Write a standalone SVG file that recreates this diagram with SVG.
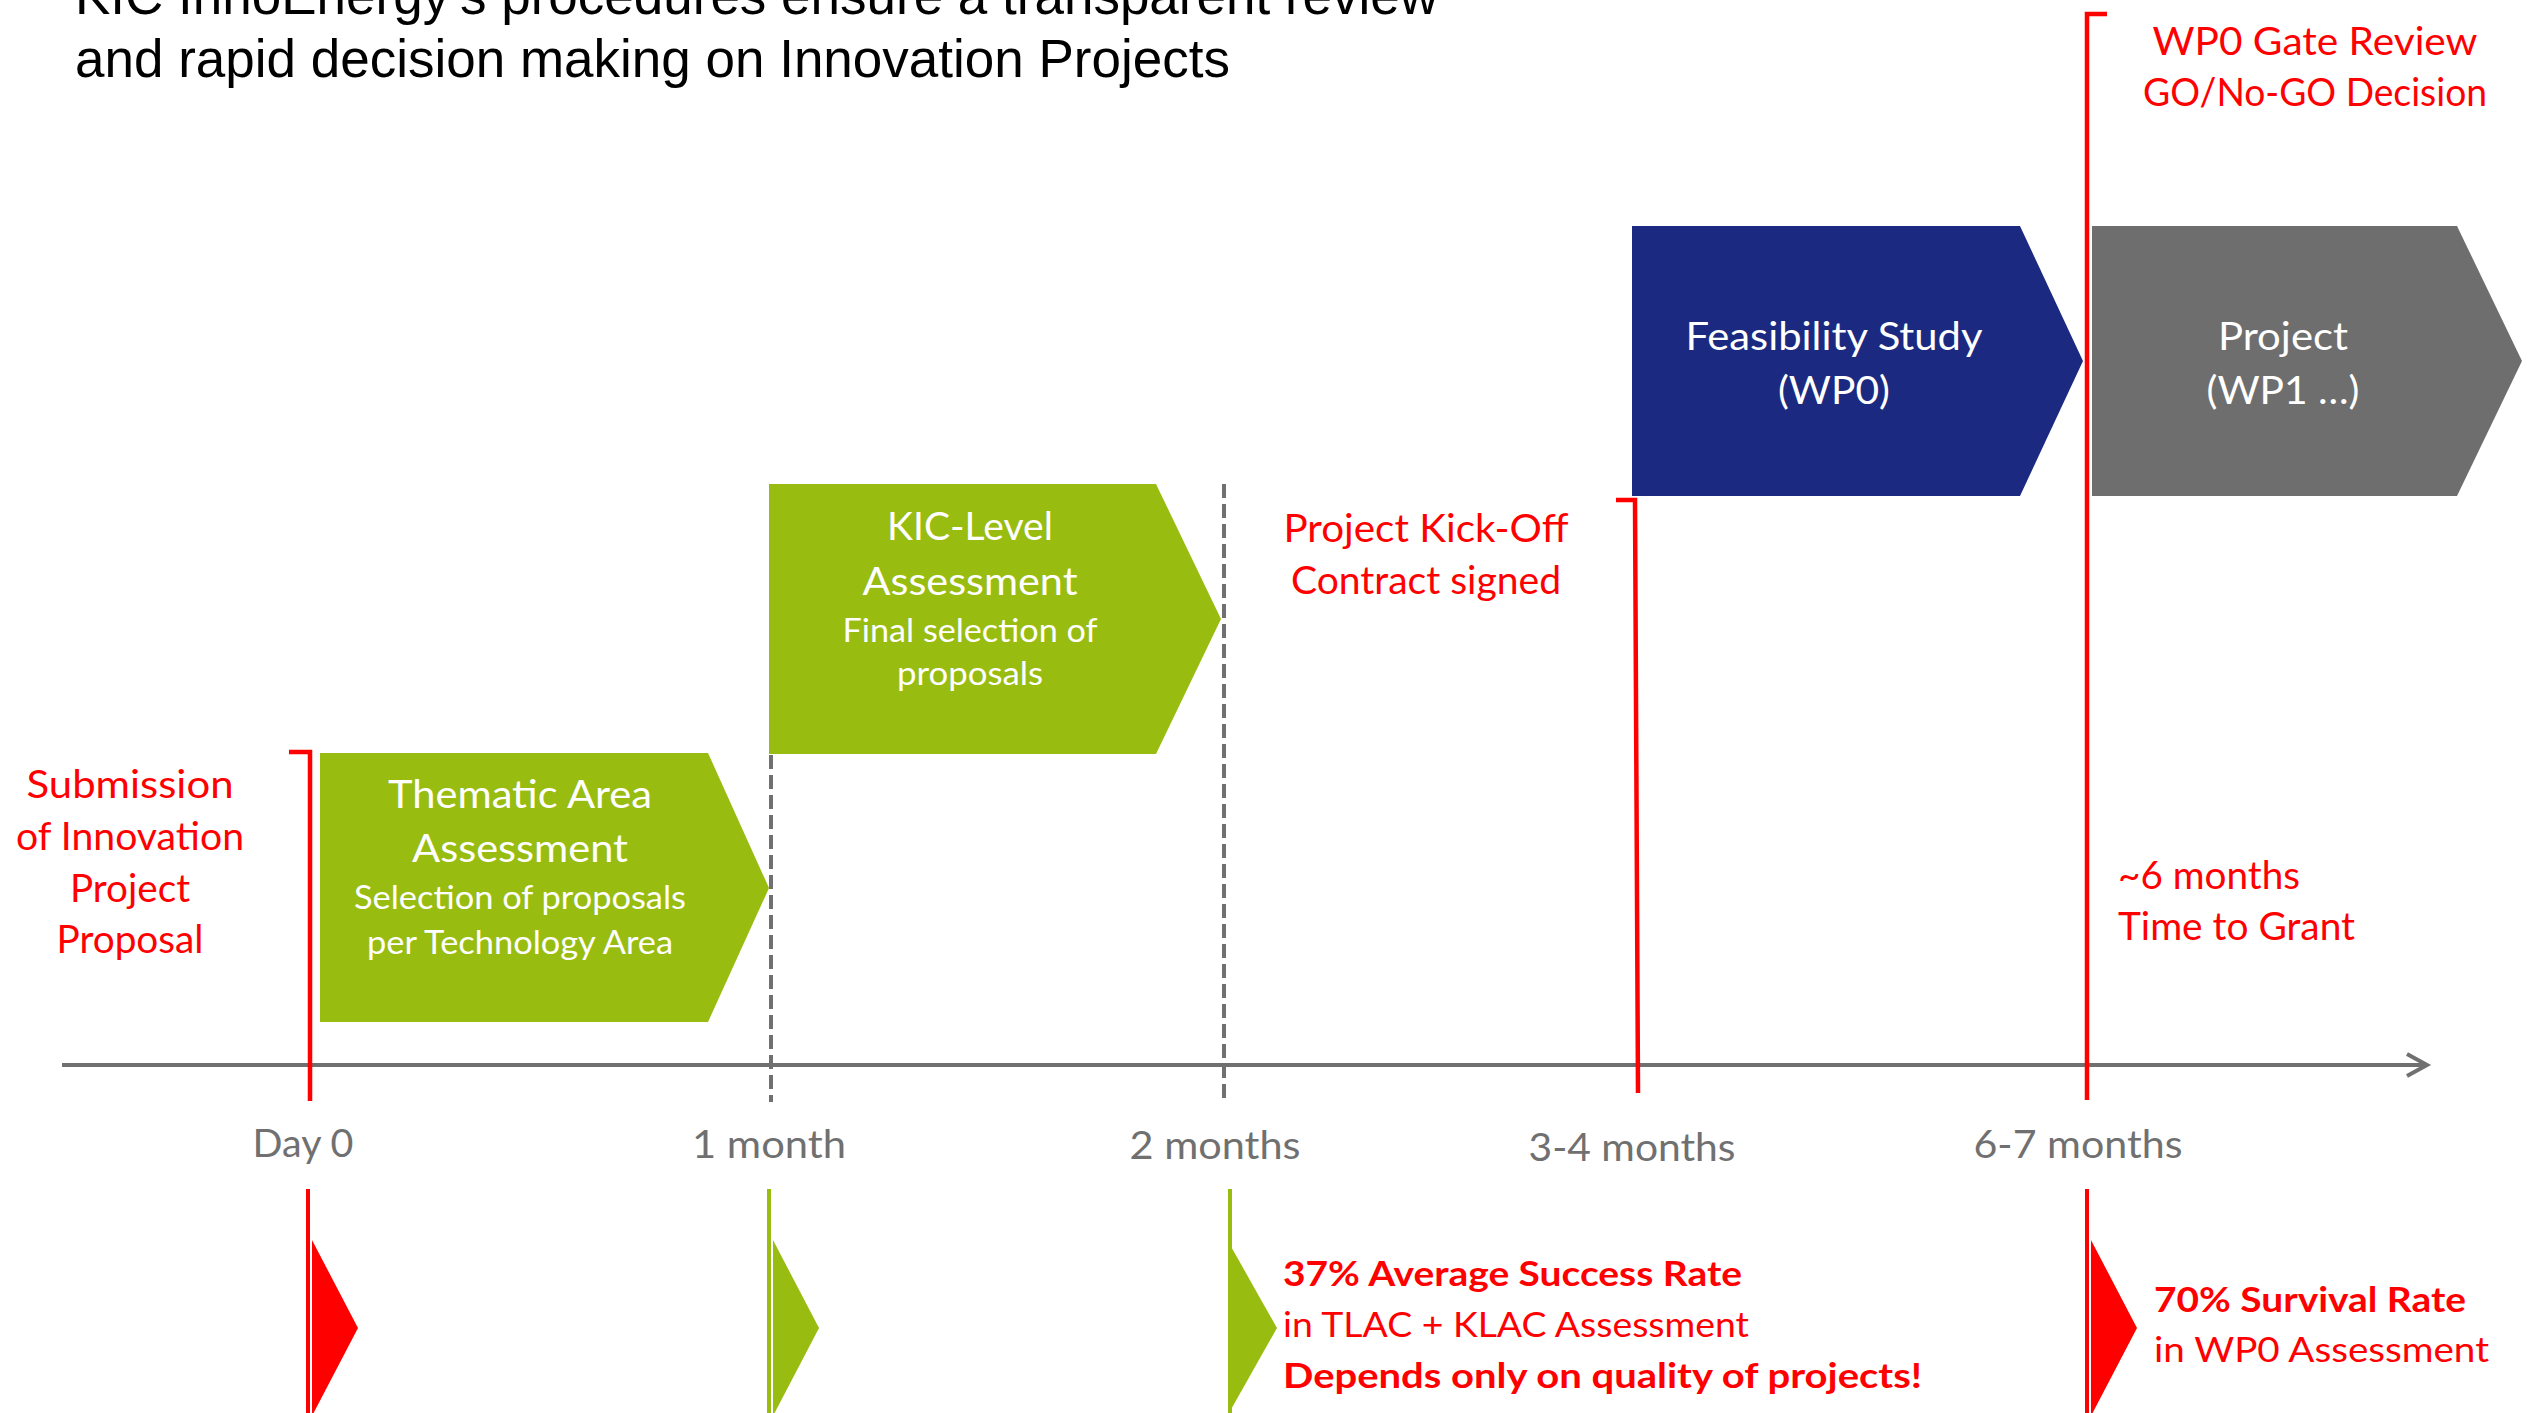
<svg xmlns="http://www.w3.org/2000/svg" width="2536" height="1413" viewBox="0 0 2536 1413">
<style>
.bg{fill:#ffffff}
.title{font-family:"Liberation Sans",Arial,sans-serif;font-size:53px;fill:#000000}
.c{font-family:Lato,"Open Sans",sans-serif}
.bt{font-size:38px;fill:#ffffff;text-anchor:middle}
.bs{font-size:32px;fill:#ffffff;text-anchor:middle}
.red{font-size:38px;fill:#ff0000}
.mid{text-anchor:middle}
.tick{font-size:38px;fill:#707070;text-anchor:middle}
.stat{font-size:35px;fill:#ff0000}
.b{font-weight:bold}
.green{fill:#98bc10}
.navy{fill:#1b2a80}
.grey{fill:#6e6e6e}
.rline{fill:none;stroke:#ff0000;stroke-width:4.5}
.gline{fill:none;stroke:#98bc10;stroke-width:4}
.dash{fill:none;stroke:#707070;stroke-width:4;stroke-dasharray:14 6}
.axis{fill:none;stroke:#707070;stroke-width:4}
.rtri{fill:#ff0000}
.gtri{fill:#98bc10}
</style>
<rect class="bg" x="0" y="0" width="2536" height="1413"/>

<g id="title">
<text class="title" x="75" y="14">KIC InnoEnergy’s procedures ensure a transparent review</text>
<text class="title" x="75" y="77">and rapid decision making on Innovation Projects</text>
</g>

<g id="connectors">
<path class="axis" d="M62 1065 H2424"/>
<polyline class="axis" points="2407,1054 2427,1065 2407,1076" stroke-linejoin="miter"/>
<path class="rline" d="M289 752 H310 V1101"/>
<path class="dash" d="M771 755 V1102"/>
<path class="dash" d="M1224 484 V1098"/>
<path class="rline" d="M1616 500 H1635 L1638 1093"/>
<path class="rline" d="M2107 14 H2087 V1100"/>
</g>

<g id="node-submission">
<text class="c red mid" x="130" y="798" textLength="207" lengthAdjust="spacingAndGlyphs">Submission</text>
<text class="c red mid" x="130" y="850" textLength="228" lengthAdjust="spacingAndGlyphs">of Innovation</text>
<text class="c red mid" x="130" y="902" textLength="120" lengthAdjust="spacingAndGlyphs">Project</text>
<text class="c red mid" x="130" y="953" textLength="147" lengthAdjust="spacingAndGlyphs">Proposal</text>
</g>

<g id="node-thematic">
<polygon class="green" points="320,753 708,753 769,888 708,1022 320,1022"/>
<text class="c bt" x="520" y="808" textLength="264" lengthAdjust="spacingAndGlyphs">Thematic Area</text>
<text class="c bt" x="520" y="862" textLength="216" lengthAdjust="spacingAndGlyphs">Assessment</text>
<text class="c bs" x="520" y="909" textLength="332" lengthAdjust="spacingAndGlyphs">Selection of proposals</text>
<text class="c bs" x="520" y="954" textLength="306" lengthAdjust="spacingAndGlyphs">per Technology Area</text>
</g>

<g id="node-kic">
<polygon class="green" points="769,484 1156,484 1221,619 1156,754 769,754"/>
<text class="c bt" x="970" y="540" textLength="166" lengthAdjust="spacingAndGlyphs">KIC-Level</text>
<text class="c bt" x="970" y="595" textLength="215" lengthAdjust="spacingAndGlyphs">Assessment</text>
<text class="c bs" x="970" y="642" textLength="255" lengthAdjust="spacingAndGlyphs">Final selection of</text>
<text class="c bs" x="970" y="685" textLength="146" lengthAdjust="spacingAndGlyphs">proposals</text>
</g>

<g id="node-kickoff">
<text class="c red mid" x="1426" y="542" textLength="285" lengthAdjust="spacingAndGlyphs">Project Kick-Off</text>
<text class="c red mid" x="1426" y="594" textLength="270" lengthAdjust="spacingAndGlyphs">Contract signed</text>
</g>

<g id="node-feasibility">
<polygon class="navy" points="1632,226 2020,226 2083,361 2020,496 1632,496"/>
<text class="c bt" x="1834" y="350" textLength="297" lengthAdjust="spacingAndGlyphs">Feasibility Study</text>
<text class="c bt" x="1834" y="404" textLength="112" lengthAdjust="spacingAndGlyphs">(WP0)</text>
</g>

<g id="node-project">
<polygon class="grey" points="2092,226 2457,226 2522,361 2457,496 2092,496"/>
<text class="c bt" x="2283" y="350" textLength="130" lengthAdjust="spacingAndGlyphs">Project</text>
<text class="c bt" x="2283" y="404" textLength="153" lengthAdjust="spacingAndGlyphs">(WP1 …)</text>
</g>

<g id="node-gate">
<text class="c red mid" x="2315" y="55" textLength="325" lengthAdjust="spacingAndGlyphs">WP0 Gate Review</text>
<text class="c red mid" x="2315" y="106" textLength="344" lengthAdjust="spacingAndGlyphs">GO/No-GO Decision</text>
</g>

<g id="node-timetogrant">
<text class="c red" x="2118" y="889" textLength="182" lengthAdjust="spacingAndGlyphs">~6 months</text>
<text class="c red" x="2118" y="940" textLength="237" lengthAdjust="spacingAndGlyphs">Time to Grant</text>
</g>

<g id="ticks">
<text class="c tick" x="303" y="1157" textLength="101" lengthAdjust="spacingAndGlyphs">Day 0</text>
<text class="c tick" x="769" y="1158" textLength="154" lengthAdjust="spacingAndGlyphs">1 month</text>
<text class="c tick" x="1215" y="1159" textLength="171" lengthAdjust="spacingAndGlyphs">2 months</text>
<text class="c tick" x="1632" y="1161" textLength="207" lengthAdjust="spacingAndGlyphs">3-4 months</text>
<text class="c tick" x="2078" y="1158" textLength="209" lengthAdjust="spacingAndGlyphs">6-7 months</text>
</g>

<g id="marker-day0">
<path class="rline" d="M308 1189 V1413" style="stroke-width:4"/>
<polygon class="rtri" points="312,1240 358,1328 312,1416"/>
</g>

<g id="marker-1month">
<path class="gline" d="M769 1189 V1413"/>
<polygon class="gtri" points="773,1240 819,1328 773,1416"/>
</g>

<g id="marker-2months">
<path class="gline" d="M1230 1189 V1413"/>
<polygon class="gtri" points="1229,1243 1277,1328 1229,1413"/>
<text class="c stat b" x="1283" y="1286" textLength="459" lengthAdjust="spacingAndGlyphs">37% Average Success Rate</text>
<text class="c stat" x="1283" y="1337" textLength="466" lengthAdjust="spacingAndGlyphs">in TLAC + KLAC Assessment</text>
<text class="c stat b" x="1283" y="1388" textLength="639" lengthAdjust="spacingAndGlyphs">Depends only on quality of projects!</text>
</g>

<g id="marker-6months">
<path class="rline" d="M2087 1189 V1413" style="stroke-width:4"/>
<polygon class="rtri" points="2091,1240 2137,1328 2091,1416"/>
<text class="c stat b" x="2154" y="1312" textLength="312" lengthAdjust="spacingAndGlyphs">70% Survival Rate</text>
<text class="c stat" x="2154" y="1362" textLength="335" lengthAdjust="spacingAndGlyphs">in WP0 Assessment</text>
</g>
</svg>
